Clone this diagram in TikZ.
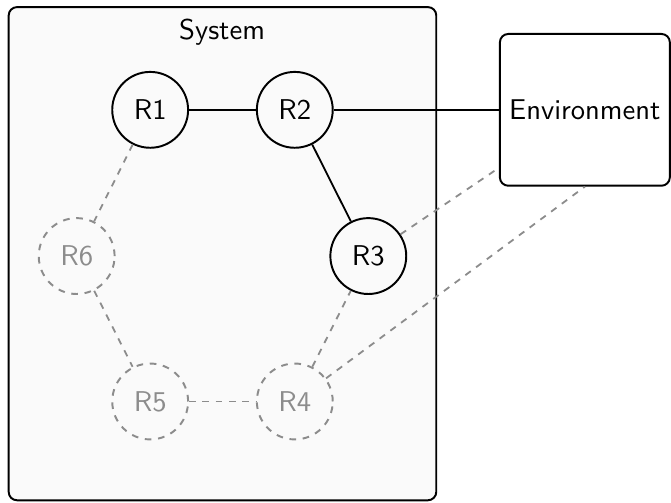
\documentclass[tikz,border=0pt]{standalone}
\begin{document}
\begin{tikzpicture}[font=\sffamily\fontsize{10.3}{12}\selectfont,
  robot/.style={circle,draw,line width=0.7pt,minimum size=0.96cm,inner sep=0pt},
  idle/.style={robot,draw=black!45,text=black!45,dash pattern=on 2.4pt off 2.4pt},
  link/.style={line width=0.65pt},
  weak/.style={line width=0.65pt,black!45,dash pattern=on 2.4pt off 2.4pt}]
\useasboundingbox (0,0) rectangle (8.49,6.36);
\draw[line width=0.7pt,rounded corners=3pt,fill=black!2] (0.11,0.03) rectangle (5.52,6.27);
\node (sys) at (2.81,5.95) {System};
\foreach \n/\x/\y in {R1/1.90/4.97,R2/3.73/4.97,R3/4.66/3.12}{
  \node[robot] (\n) at (\x,\y) {\n};
}
\foreach \n/\x/\y in {R4/3.73/1.28,R5/1.90/1.28,R6/0.97/3.12}{
  \node[idle] (\n) at (\x,\y) {\n};
}
\node[draw,line width=0.7pt,rounded corners=3pt,minimum width=2.15cm,minimum height=1.92cm,inner sep=2pt] (env) at (7.40,4.97) {Environment};
\draw[link] (R1) -- (R2);
\draw[link] (R2) -- (R3);
\draw[link] (R2) -- (env);
\foreach \a/\b in {R1/R6,R6/R5,R5/R4,R4/R3,R3/env}{
  \draw[weak] (\a) -- (\b);
}
\draw[weak] (R4) -- (env.south);
\end{tikzpicture}
\end{document}
